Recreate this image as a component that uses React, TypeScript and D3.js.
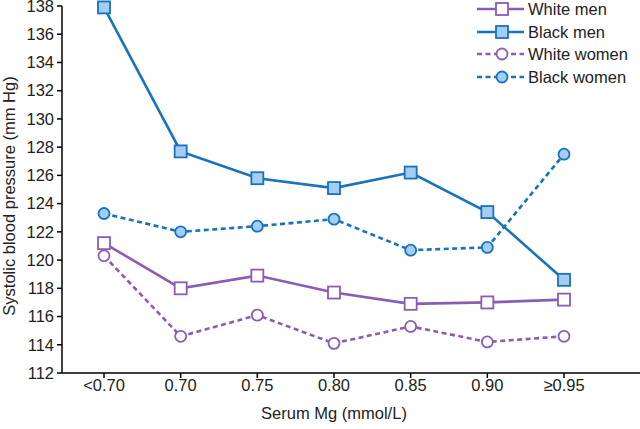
import React from "react";
import * as d3 from "d3";

const categories = ["<0.70", "0.70", "0.75", "0.80", "0.85", "0.90", "≥0.95"];
const whiteMen = [121.2, 118.0, 118.9, 117.7, 116.9, 117.0, 117.2];
const blackMen = [137.9, 127.7, 125.8, 125.1, 126.2, 123.4, 118.6];
const whiteWomen = [120.3, 114.6, 116.1, 114.1, 115.3, 114.2, 114.6];
const blackWomen = [123.3, 122.0, 122.4, 122.9, 120.7, 120.9, 127.5];
const yTicks = d3.range(112, 139, 2);

const PURPLE = "#8a5cb5";
const BLUE = "#1873bd";
const LIGHTBLUE = "#a3cdf2";

const series = [
  { name: "White men", values: whiteMen, color: PURPLE, fill: "#ffffff", dash: null, shape: "square" },
  { name: "Black men", values: blackMen, color: BLUE, fill: LIGHTBLUE, dash: null, shape: "square" },
  { name: "White women", values: whiteWomen, color: PURPLE, fill: "#ffffff", dash: "5,3.5", shape: "circle" },
  { name: "Black women", values: blackWomen, color: BLUE, fill: LIGHTBLUE, dash: "5,3.5", shape: "circle" },
];

export default function App() {
  const W = 640, H = 429;
  const x0 = 62, yTop = 6, yBot = 373;
  const x = d3.scalePoint<string>().domain(categories).range([104, 564]);
  const y = d3.scaleLinear().domain([112, 138]).range([yBot, yTop]);
  const line = d3.line<number>().x((_, i) => x(categories[i])!).y((v) => y(v));
  const font = "Helvetica, Arial, 'Liberation Sans', sans-serif";
  const fs = 16.5;

  const marker = (s: any, cx: number, cy: number, key: string) =>
    s.shape === "square" ? (
      <rect key={key} x={cx - 6} y={cy - 6} width={12} height={12} fill={s.fill} stroke={s.color} strokeWidth={1.8} />
    ) : (
      <circle key={key} cx={cx} cy={cy} r={5.5} fill={s.fill} stroke={s.color} strokeWidth={1.8} />
    );

  const legendY = [9, 32, 54, 77];

  return (
    <svg width={W} height={H} style={{ position: "absolute", left: 0, top: 0, background: "#fff" }} fontFamily={font}>
      {/* axes */}
      <line x1={x0} x2={x0} y1={yTop} y2={yBot} stroke="#000" strokeWidth={1.5} />
      <line x1={x0} x2={640} y1={yBot} y2={yBot} stroke="#000" strokeWidth={1.5} />
      {yTicks.map((t) => (
        <g key={t}>
          <line x1={x0 - 5} x2={x0} y1={y(t)} y2={y(t)} stroke="#000" strokeWidth={1.5} />
          <text x={x0 - 8} y={y(t)} dy="0.35em" textAnchor="end" fontSize={fs} fill="#222">{t}</text>
        </g>
      ))}
      {categories.map((c) => (
        <g key={c}>
          <line x1={x(c)} x2={x(c)} y1={yBot} y2={yBot + 5} stroke="#000" strokeWidth={1.5} />
          <text x={x(c)} y={391} textAnchor="middle" fontSize={fs} fill="#222">{c}</text>
        </g>
      ))}
      <text x={334} y={419} textAnchor="middle" fontSize={fs} fill="#222">Serum Mg (mmol/L)</text>
      <text transform={`translate(15,196) rotate(-90)`} textAnchor="middle" fontSize={fs} fill="#222">
        Systolic blood pressure (mm Hg)
      </text>

      {/* series */}
      {series.map((s) => (
        <g key={s.name}>
          <path d={line(s.values)!} fill="none" stroke={s.color} strokeWidth={2.6} strokeDasharray={s.dash ?? undefined} />
          {s.values.map((v, i) => marker(s, x(categories[i])!, y(v), s.name + i))}
        </g>
      ))}

      {/* legend */}
      {series.map((s, i) => (
        <g key={"lg" + s.name}>
          <line x1={477} x2={524} y1={legendY[i]} y2={legendY[i]} stroke={s.color} strokeWidth={2.6} strokeDasharray={s.dash ?? undefined} />
          {marker(s, 502, legendY[i], "lm" + i)}
          <text x={528} y={legendY[i]} dy="0.35em" fontSize={fs} fill="#222">{s.name}</text>
        </g>
      ))}
    </svg>
  );
}
